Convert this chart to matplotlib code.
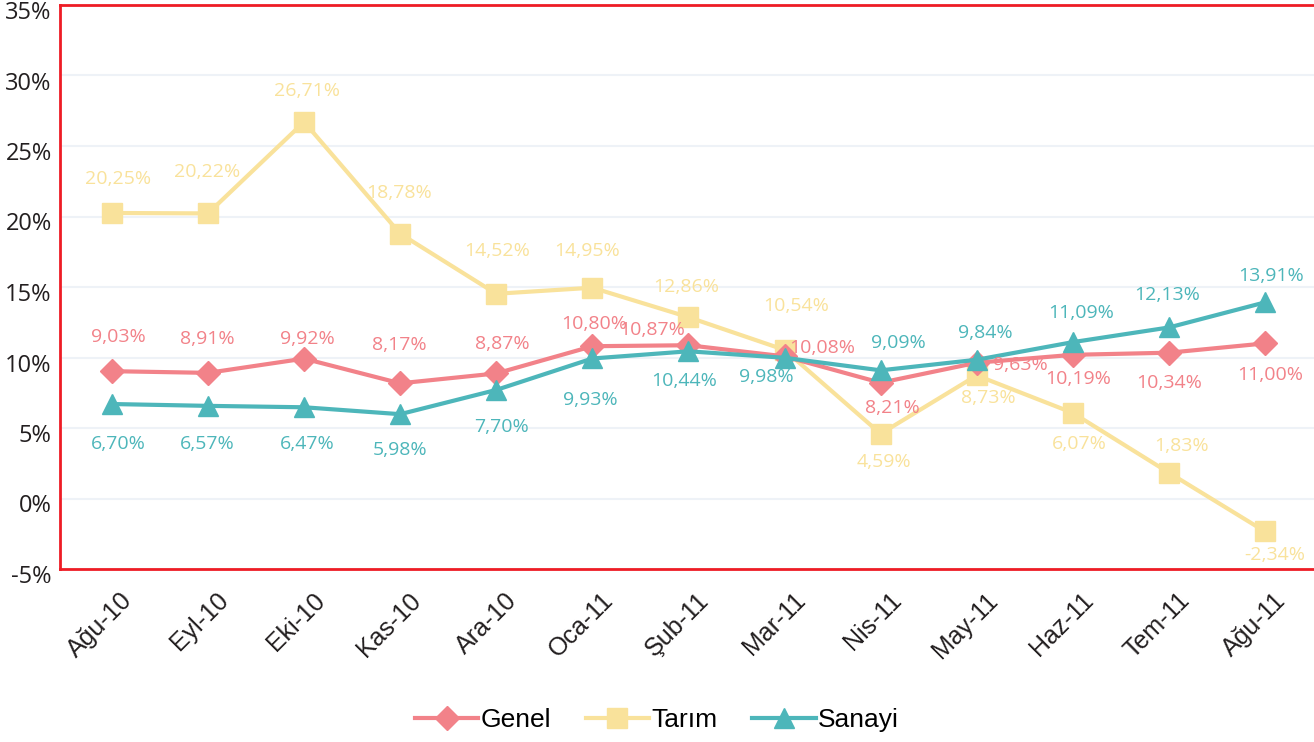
import matplotlib
matplotlib.use("Agg")
import matplotlib.pyplot as plt
import matplotlib.transforms as mtransforms

# veriler
aylar = ["Ağu-10", "Eyl-10", "Eki-10", "Kas-10", "Ara-10", "Oca-11", "Şub-11",
         "Mar-11", "Nis-11", "May-11", "Haz-11", "Tem-11", "Ağu-11"]
genel = [9.03, 8.91, 9.92, 8.17, 8.87, 10.80, 10.87, 10.08, 8.21, 9.63, 10.19, 10.34, 11.00]
tarim = [20.25, 20.22, 26.71, 18.78, 14.52, 14.95, 12.86, 10.54, 4.59, 8.73, 6.07, 1.83, -2.34]
sanayi = [6.70, 6.57, 6.47, 5.98, 7.70, 9.93, 10.44, 9.98, 9.09, 9.84, 11.09, 12.13, 13.91]

# etiket kaymalari (piksel)
genel_off = [(6, 34), (-1, 34), (3, 20), (-1, 38), (6, 29), (2, 22), (-36, 15),
             (38, 8), (12, -25), (44, -2), (5, -24), (0, -30), (5, -32)]
tarim_off = [(6, 34), (-1, 41), (3, 31), (-1, 41), (1, 43), (-5, 37), (-2, 30),
             (12, 44), (3, -28), (12, -23), (7, -31), (13, 27), (10, -24)]
sanayi_off = [(6, -40), (-1, -38), (3, -37), (0, -36), (5, -37), (-2, -42), (-4, -30),
              (-18, -19), (18, 27), (9, 27), (8, 29), (-2, 32), (6, 26)]

c_genel = "#F28289"
c_tarim = "#F9E29B"
c_sanayi = "#4DB6BA"
c_kenar = "#EE1C25"

fig = plt.figure(figsize=(13.14, 7.42), dpi=100)
ax = fig.add_axes([60 / 1314, 173 / 742, 1 - 60 / 1314, 564 / 742])

x = list(range(len(aylar)))
ax.plot(x, genel, color=c_genel, lw=3, marker="D", ms=12, label="Genel", zorder=4)
ax.plot(x, tarim, color=c_tarim, lw=3, marker="s", ms=15, label="Tarım", zorder=3)
ax.plot(x, sanayi, color=c_sanayi, lw=3, marker="^", ms=15, label="Sanayi", zorder=5)

def yuzde(v):
    return f"{v:.2f}%".replace(".", ",")

for seri, offs, renk in [(genel, genel_off, c_genel), (tarim, tarim_off, c_tarim),
                         (sanayi, sanayi_off, c_sanayi)]:
    for i, v in enumerate(seri):
        ax.annotate(yuzde(v), (i, v), xytext=offs[i], textcoords="offset pixels",
                    ha="center", va="center", color=renk, fontsize=14,
                    family=["Open Sans", "DejaVu Sans"], zorder=6)

ax.set_xlim(-0.54, 12.51)
ax.set_ylim(-5, 35)
ax.set_yticks(range(-5, 36, 5))
ax.set_yticklabels([f"{t}%" for t in range(-5, 36, 5)], family="Open Sans",
                   fontsize=17, color="#231F20")
ax.yaxis.grid(True, color="#EEF2F7", lw=1.5)
ax.set_axisbelow(True)
ax.tick_params(axis="y", length=0, pad=6)
asagi = mtransforms.ScaledTranslation(0, -5 / 100, fig.dpi_scale_trans)
for lbl in ax.get_yticklabels():
    lbl.set_transform(lbl.get_transform() + asagi)

ax.set_xticks(x)
ax.set_xticklabels(aylar, rotation=45, ha="right", va="center", rotation_mode="anchor",
                   family="Liberation Sans", fontsize=18, color="#231F20")
ax.tick_params(axis="x", length=0, pad=20)
kay = mtransforms.ScaledTranslation(17 / 100, 0, fig.dpi_scale_trans)
for lbl in ax.get_xticklabels():
    lbl.set_transform(lbl.get_transform() + kay)

for s in ["left", "top", "bottom"]:
    ax.spines[s].set_color(c_kenar)
    ax.spines[s].set_linewidth(2)
ax.spines["right"].set_visible(False)

fig.legend(loc="center", bbox_to_anchor=(0.5, 0.03), ncol=3, frameon=False,
           prop={"family": ["Liberation Sans Narrow", "Liberation Sans"], "size": 19},
           handlelength=2.4, columnspacing=1.3, handletextpad=0.1)

fig.savefig("out.png", dpi=100)
